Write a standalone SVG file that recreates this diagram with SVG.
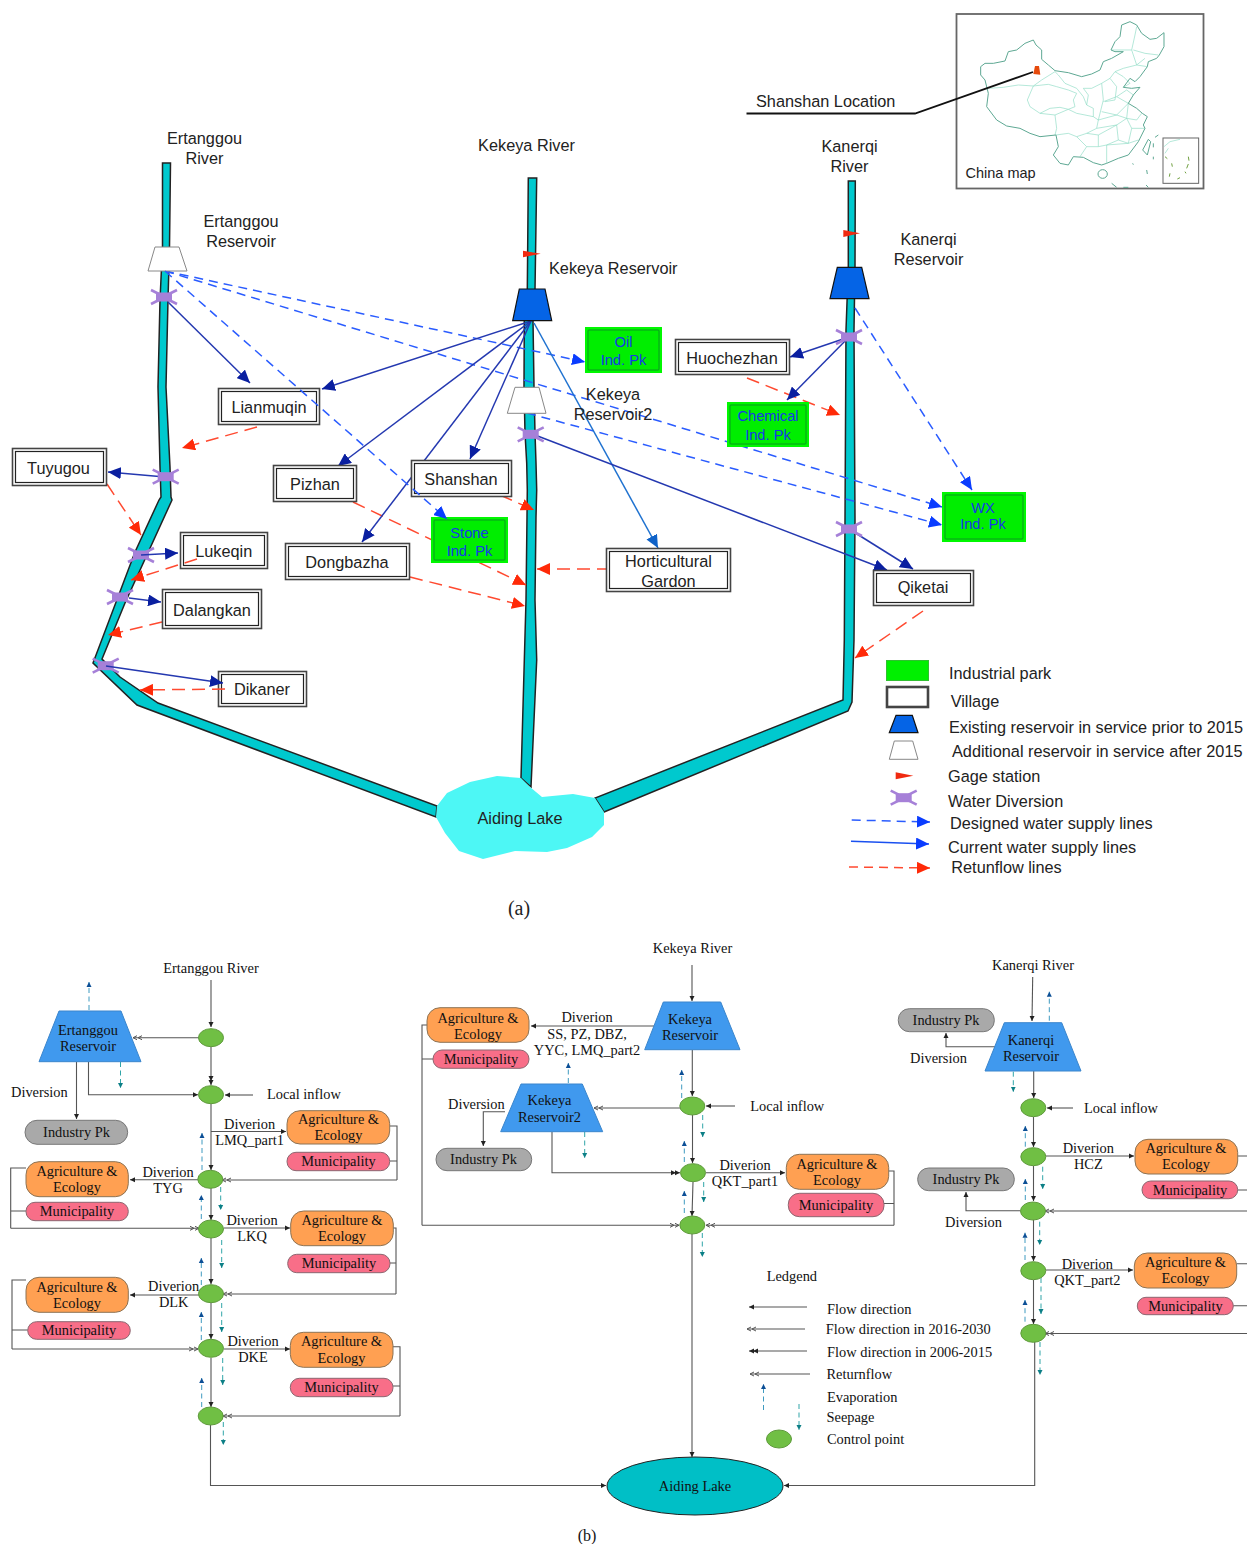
<svg xmlns="http://www.w3.org/2000/svg" width="1247" height="1544" viewBox="0 0 1247 1544">
<style>
text{font-family:"Liberation Sans",Arial,sans-serif;font-size:16.300px;fill:#222}
.m{text-anchor:middle}
.s text,text.s{font-family:"Liberation Serif","Times New Roman",serif;font-size:14.400px;fill:#111}
text.g{fill:#1638e8;font-size:14.700px}
.riv{fill:#00c9ce;stroke:#222;stroke-width:1.5}
.dk{fill:none;stroke:#2438b0;stroke-width:1.5;marker-end:url(#hDk)}
.lb{fill:none;stroke:#1f72d0;stroke-width:1.5;marker-end:url(#hLb)}
.de{fill:none;stroke:#2a5cff;stroke-width:1.5;stroke-dasharray:9 6;marker-end:url(#hDe)}
.re{fill:none;stroke:#ff4a30;stroke-width:1.5;stroke-dasharray:13 7;marker-end:url(#hRe)}
.v1{fill:#fff;stroke:#444;stroke-width:1.6}
.v2{fill:#fff;stroke:#222;stroke-width:1.2}
.p1{fill:#00f000;stroke:#00f800;stroke-width:2}
.p2{fill:#00ee00;stroke:#0a9a20;stroke-width:1}
.ex{fill:#0564e6;stroke:#111;stroke-width:1.2}
.ad{fill:#fff;stroke:#888;stroke-width:1}
.gag{fill:#f02a10}
.f{fill:none;stroke:#555;stroke-width:1.1}
.fa{marker-end:url(#bA)}
.fd{marker-end:url(#bD)}
.fo{marker-end:url(#bO)}
.ev{fill:none;stroke:#3f9ac0;stroke-width:1;stroke-dasharray:5 3.5;marker-end:url(#bE)}
.se{fill:none;stroke:#30a5a8;stroke-width:1;stroke-dasharray:5 3.5;marker-end:url(#bS)}
.ag{fill:#ffa052;stroke:#8c7355;stroke-width:1}
.mu{fill:#f86e88;stroke:#8c6670;stroke-width:1}
.ip{fill:#a9a9a9;stroke:#777;stroke-width:1}
.cp{fill:#70bf44;stroke:#5f9a3c;stroke-width:1}
.rs{fill:#4099ee;stroke:#3a85cc;stroke-width:1}
.mo{fill:none;stroke:#5da893;stroke-width:3}
.mp{fill:none;stroke:#8fdcc5;stroke-width:2}
</style>
<defs>
<marker id="hDk" markerUnits="userSpaceOnUse" markerWidth="14" markerHeight="12" refX="13" refY="6" orient="auto"><path d="M0,0L13,6L0,12Z" fill="#0a1fa0"/></marker>
<marker id="hLb" markerUnits="userSpaceOnUse" markerWidth="14" markerHeight="12" refX="13" refY="6" orient="auto"><path d="M0,0L13,6L0,12Z" fill="#0f62c8"/></marker>
<marker id="hDe" markerUnits="userSpaceOnUse" markerWidth="14" markerHeight="12" refX="13" refY="6" orient="auto"><path d="M0,0L13,6L0,12Z" fill="#0a3cff"/></marker>
<marker id="hRe" markerUnits="userSpaceOnUse" markerWidth="14" markerHeight="12" refX="13" refY="6" orient="auto"><path d="M0,0L13,6L0,12Z" fill="#ff2a08"/></marker>
<marker id="bA" markerUnits="userSpaceOnUse" markerWidth="6" markerHeight="6" refX="5" refY="3" orient="auto"><path d="M0,0.5L5,3L0,5.5Z" fill="#222"/></marker>
<marker id="bD" markerUnits="userSpaceOnUse" markerWidth="10" markerHeight="6" refX="9" refY="3" orient="auto"><path d="M0,0.5L5,3L0,5.500ZM4,0.5L9,3L4,5.500Z" fill="#222"/></marker>
<marker id="bO" markerUnits="userSpaceOnUse" markerWidth="10" markerHeight="6" refX="9" refY="3" orient="auto"><path d="M4,1L0,3L4,5M9,1L5,3L9,5" fill="none" stroke="#555" stroke-width="1" transform="rotate(180 4.500 3)"/></marker>
<marker id="bE" markerUnits="userSpaceOnUse" markerWidth="6" markerHeight="6" refX="5" refY="3" orient="auto"><path d="M0,0.5L5,3L0,5.500Z" fill="#0c4f96"/></marker>
<marker id="bS" markerUnits="userSpaceOnUse" markerWidth="6" markerHeight="6" refX="5" refY="3" orient="auto"><path d="M0,0.5L5,3L0,5.500Z" fill="#0c7f86"/></marker>
<g id="wd"><path d="M-13,-7L-5,-3M13,-7L5,-3M-13,7L-5,3M13,7L5,3" stroke="#a680d8" stroke-width="2.6" fill="none"/><rect x="-8" y="-4.500" width="16" height="9" fill="#a680d8"/></g>
</defs>

<g id="china-map">
<rect x="956.500" y="14" width="247" height="174.500" fill="#fff" stroke="#666" stroke-width="1.800"/>
<g transform="translate(740 0) scale(.33333)">
<path class="mp" d="M745 265L790 262L835 255L880 258L905 240L945 215M880 258L925 253L950 260L985 270L1010 280L1000 300L1005 320L985 328L960 322L930 325L900 340L870 320L862 300L880 258M945 345L950 385L945 405M900 340L945 345L985 328M985 328L1010 340L1035 345L1060 350L1075 360L1070 385L1040 400L1010 410L985 400L948 405M945 215L955 225L975 250L1010 265L1030 290L1040 315L1060 325L1060 350M1030 265L1045 285L1040 315M1030 265L1055 265L1085 250L1110 235L1125 215L1150 205L1190 195L1215 175M1085 250L1090 300L1075 360M1110 235L1130 260L1125 300L1095 305M1125 215L1150 230L1170 250L1150 262M1090 305L1130 290L1165 310L1130 345L1085 335M1130 290L1160 270L1180 285M1075 360L1130 345L1160 355L1130 375L1070 385M1165 310L1160 355L1190 360L1205 340M1160 355L1175 385L1215 385M1130 375L1135 420L1165 430L1175 385M1040 400L1075 405L1075 440L1040 440L1010 410M1075 405L1130 375M1135 420L1100 435L1075 440M1020 470L1040 440M1100 435L1165 430L1195 420M1100 435L1100 490M1180 150L1215 160L1255 165M1115 150L1175 150L1185 105L1190 80M1175 150L1190 195M1190 195L1222 200"/>
<path class="mo" d="M722 200L735 190L760 190L795 183L805 155L830 150L855 130L880 120L888 135L905 150L905 178L925 195L945 212L985 218L1025 230L1055 222L1080 210L1090 185L1115 175L1150 155L1125 155L1113 150L1125 125L1140 110L1145 75L1170 65L1190 75L1205 100L1230 118L1250 115L1272 98L1272 140L1258 165L1250 175L1225 185L1222 200L1200 230L1185 245L1170 235L1150 262L1175 265L1200 262L1180 285L1165 310L1190 325L1207 340L1222 350L1210 375L1215 385L1195 425L1165 465L1135 475L1100 490L1085 495L1060 488L1030 472L1000 470L985 495L960 490L940 465L955 440L948 405L900 410L870 400L840 385L800 378L770 360L740 320L745 280L735 240L722 225Z"/>
<ellipse class="mo" cx="1088" cy="522" rx="14" ry="13"/>
<path class="mo" d="M1225 418L1232 425L1222 465L1208 450Z"/>
<path class="mo" d="M1220 510L1222 522M1115 550L1130 562M1150 562L1165 562M1218 555L1225 562M1178 490L1180 494M1240 470L1240 478M1240 430L1240 442M1255 405L1245 412"/>
<path d="M885 198L897 198L901 224L880 222Z" fill="#e64a0c"/>
<rect x="1269" y="414" width="107" height="136" fill="#fff" stroke="#666" stroke-width="3"/>
<path d="M1275 470L1282 476M1295 490L1297 500M1345 470L1347 482M1345 492L1340 505M1290 520L1288 530M1312 537L1320 533M1335 515L1338 520" stroke="#6fa040" stroke-width="3" fill="none"/>
<path class="mp" d="M1272 440L1290 425L1320 418M1285 445L1275 460"/>
</g>
</g>
<path id="leader" d="M746.500 113.500H915L1033 72" fill="none" stroke="#111" stroke-width="1.800"/>

<g id="rivers">
<polygon class="riv" points="162.500,163 170.500,163 169.500,247 168,300 166,387 170,467 171,497 172,500 125,603 102,659 120,677 158,703 437,806 436,817 137,705 93,663 135,552 159,500 161,497 160,467 158,387 160,300 162.500,247"/>
<polygon class="riv" points="528.300,178 536.700,178 535,290 533,320 534,387 535,433 536,463 536.700,490 536,517 535,600 536.700,660 531,787 521,778 526,600 527,517 527.300,490 526.700,463 525,433 524,387 524.300,320 527.300,290"/>
<polygon class="riv" points="848.300,181 855.300,181 855,267 854,330 855,520 854,640 852,702 848,711 604,812 595,798 843,700 844.300,640 845,520 846,330 848.300,267"/>
</g>
<polygon id="aiding-lake" fill="#4df7f5" points="436,817 437,806 447,793 470,782 497,776 521,778 530,787 542,797 573,794 595,798 604,812 604,825 592,837 567,848 547,852 515,851 483,859 459,851 445,833"/>

<g id="connectors-under">
<line class="de" x1="165" y1="271" x2="585" y2="362"/>
<line class="de" x1="165" y1="271" x2="942" y2="507"/>
<line class="de" x1="527" y1="413" x2="942" y2="525"/>
<line class="de" x1="855" y1="308" x2="972" y2="490"/>
<line class="re" x1="353" y1="502" x2="526" y2="585"/>
<line class="re" x1="410" y1="577" x2="525" y2="606"/>
<line class="re" x1="500" y1="495" x2="534" y2="510"/>
<line class="re" x1="610" y1="569" x2="537" y2="569"/>
<line class="re" x1="257" y1="427" x2="182" y2="448"/>
<line class="re" x1="107" y1="484" x2="141" y2="535"/>
<line class="re" x1="162" y1="622" x2="108" y2="635"/>
<line class="re" x1="747" y1="378" x2="840" y2="415"/>
<line class="re" x1="923" y1="611" x2="855" y2="658"/>
<line class="dk" x1="168" y1="302" x2="250" y2="383"/>
<line class="dk" x1="531" y1="321" x2="322" y2="389"/>
<line class="dk" x1="531" y1="321" x2="338" y2="466"/>
<line class="dk" x1="531" y1="321" x2="362" y2="542"/>
<line class="dk" x1="531" y1="321" x2="470" y2="459"/>
<line class="lb" x1="534" y1="323" x2="658" y2="548"/>
<line class="dk" x1="535" y1="435" x2="887" y2="570"/>
<line class="dk" x1="849" y1="529" x2="913" y2="569"/>
<line class="dk" x1="165" y1="477" x2="108" y2="472"/>
<line class="dk" x1="849" y1="337" x2="790" y2="357"/>
<line class="dk" x1="849" y1="337" x2="787" y2="400"/>
</g>

<g id="gage-stations">
<polygon class="gag" points="523,250.700 540.700,253.700 523,257.300"/>
<polygon class="gag" points="843.300,230 860,233.300 843.300,237"/>
</g>
<g id="reservoir-ertanggou-a"><polygon class="ad" points="155,247 179,247 187,271 148,271"/></g>
<g id="reservoir-kekeya-a"><polygon class="ex" points="519.300,289 545,289 551.700,320.700 512.700,320.700"/></g>
<g id="reservoir-kekeya2-a"><polygon class="ad" points="515,387.300 539,387.300 546,413.300 507.300,413.300"/></g>
<g id="reservoir-kanerqi-a"><polygon class="ex" points="837.300,267.300 861.700,267.300 869,298.700 830,298.700"/></g>
<g id="diversions">
<use href="#wd" x="164" y="297"/><use href="#wd" x="165.700" y="476.700"/><use href="#wd" x="530.700" y="434.300"/><use href="#wd" x="849" y="337"/><use href="#wd" x="849" y="529"/><use href="#wd" x="141" y="555"/><use href="#wd" x="120" y="597"/><use href="#wd" x="105.700" y="665.700"/>
</g>

<g id="lianmuqin"><rect class="v1" x="218.500" y="388.500" width="101" height="36"/><rect class="v2" x="221.500" y="391.500" width="95" height="30"/><text class="m" x="269" y="413">Lianmuqin</text></g>
<g id="tuyugou"><rect class="v1" x="12.500" y="448.500" width="94" height="37"/><rect class="v2" x="15.500" y="451.500" width="88" height="31"/><text class="m" x="58.500" y="474">Tuyugou</text></g>
<g id="pizhan"><rect class="v1" x="273.500" y="465.500" width="83" height="36"/><rect class="v2" x="276.500" y="468.500" width="77" height="30"/><text class="m" x="315" y="490">Pizhan</text></g>
<g id="shanshan"><rect class="v1" x="411.500" y="460.500" width="100" height="36"/><rect class="v2" x="414.500" y="463.500" width="94" height="30"/><text class="m" x="461" y="485">Shanshan</text></g>
<g id="dongbazha"><rect class="v1" x="285.500" y="543.500" width="124" height="36"/><rect class="v2" x="288.500" y="546.500" width="118" height="30"/><text class="m" x="347" y="568">Dongbazha</text></g>
<g id="huochezhan"><rect class="v1" x="675.500" y="339.500" width="114" height="35"/><rect class="v2" x="678.500" y="342.500" width="108" height="29"/><text class="m" x="732" y="364">Huochezhan</text></g>
<g id="horticultural"><rect class="v1" x="606.500" y="548.500" width="124" height="43"/><rect class="v2" x="609.500" y="551.500" width="118" height="37"/><text class="m" x="668.500" y="567">Horticultural</text><text class="m" x="668.500" y="587">Gardon</text></g>
<g id="qiketai"><rect class="v1" x="873.500" y="570.500" width="100" height="35"/><rect class="v2" x="876.500" y="573.500" width="94" height="29"/><text class="m" x="923" y="593">Qiketai</text></g>
<g id="lukeqin"><rect class="v1" x="180.500" y="532.500" width="87" height="36"/><rect class="v2" x="183.500" y="535.500" width="81" height="30"/><text class="m" x="223.700" y="557">Lukeqin</text></g>
<g id="dalangkan"><rect class="v1" x="162.500" y="589.500" width="99" height="39"/><rect class="v2" x="165.500" y="592.500" width="93" height="33"/><text class="m" x="212" y="616">Dalangkan</text></g>
<g id="dikaner"><rect class="v1" x="218.500" y="671.500" width="88" height="35"/><rect class="v2" x="221.500" y="674.500" width="82" height="29"/><text class="m" x="262" y="695">Dikaner</text></g>

<g id="oil-pk"><rect class="p1" x="586" y="328" width="75" height="44"/><rect class="p2" x="588" y="330" width="71" height="40" rx="1"/><text class="m g" x="623.500" y="347">Oil</text><text class="m g" x="623.500" y="365">Ind. Pk</text></g>
<g id="chemical-pk"><rect class="p1" x="728" y="403" width="80" height="43"/><rect class="p2" x="730" y="405" width="76" height="39" rx="1"/><text class="m g" x="768" y="421">Chemical</text><text class="m g" x="768" y="440">Ind. Pk</text></g>
<g id="stone-pk"><rect class="p1" x="432" y="518" width="75" height="44"/><rect class="p2" x="434" y="520" width="71" height="40" rx="1"/><text class="m g" x="469.500" y="538">Stone</text><text class="m g" x="469.500" y="556">Ind. Pk</text></g>
<g id="wx-pk"><rect class="p1" x="943" y="493" width="82" height="48"/><rect class="p2" x="945" y="495" width="78" height="44" rx="1"/><text class="m g" x="983" y="513">WX</text><text class="m g" x="983" y="529">Ind. Pk</text></g>

<g id="connectors">
<line class="de" x1="165" y1="271" x2="447" y2="519"/>
<line class="dk" x1="141" y1="555" x2="178" y2="553"/>
<line class="dk" x1="129" y1="598" x2="161" y2="602"/>
<line class="dk" x1="106" y1="666" x2="223" y2="683"/>
<line class="re" x1="197" y1="559" x2="131" y2="580"/>
<line class="re" x1="225" y1="689" x2="140" y2="690"/>
</g>

<g id="labels-a">
<text class="m" x="204.500" y="144">Ertanggou</text><text class="m" x="204.500" y="164">River</text>
<text class="m" x="241" y="227">Ertanggou</text><text class="m" x="241" y="247">Reservoir</text>
<text class="m" x="526.500" y="151">Kekeya River</text>
<text x="549" y="274">Kekeya Reservoir</text>
<text class="m" x="613" y="400">Kekeya</text><text class="m" x="613" y="420">Reservoir2</text>
<text class="m" x="849.500" y="152">Kanerqi</text><text class="m" x="849.500" y="172">River</text>
<text class="m" x="928.500" y="245">Kanerqi</text><text class="m" x="928.500" y="265">Reservoir</text>
<text x="756" y="107">Shanshan Location</text>
<text x="965.500" y="178" style="font-size:14.500px">China map</text>
<text class="m" x="520" y="824">Aiding Lake</text>
</g>

<g id="legend-a">
<rect x="886.500" y="660.500" width="42" height="20" fill="#00f000" stroke="#30c030"/>
<rect x="887" y="687" width="41" height="20" fill="#fff" stroke="#444" stroke-width="2.600"/>
<polygon class="ex" points="889.300,732.700 896,715.300 912.300,715.300 918,732.700"/>
<polygon class="ad" points="889.300,759.300 894.300,741 912.700,741 918,759.300"/>
<polygon class="gag" points="895.700,772.300 913.300,775.700 895.700,779.300"/>
<use href="#wd" x="903.700" y="797.700"/>
<line class="de" x1="851.700" y1="820" x2="930" y2="822"/>
<line class="dk" style="stroke:#1a50f0;marker-end:url(#hDe)" x1="851" y1="841.300" x2="929" y2="844"/>
<line class="re" x1="849" y1="867" x2="930" y2="868" style="stroke-dasharray:9 6"/>
<text x="949" y="679">Industrial park</text>
<text x="950.700" y="707">Village</text>
<text x="949" y="733">Existing reservoir in service prior to 2015</text>
<text x="952" y="757">Additional reservoir in service after 2015</text>
<text x="948" y="782">Gage station</text>
<text x="948" y="807">Water Diversion</text>
<text x="950" y="829">Designed water supply lines</text>
<text x="948" y="853">Current water supply lines</text>
<text x="951.300" y="873">Retunflow lines</text>
</g>
<text class="m" x="519" y="915" style="font-family:'Liberation Serif',serif;font-size:20px">(a)</text>

<g id="connectors-b">
<path class="f fa" d="M211 980V1027"/>
<path class="f fo" d="M199 1037.700H133"/>
<path class="f fd" d="M211 1047V1085"/>
<path class="f fa" d="M88.500 1062V1094.700H198"/>
<path class="f fa" d="M76.500 1062V1119"/>
<path class="f fa" d="M253 1095H225"/>
<path class="f fa" d="M211 1104V1170"/>
<path class="f fa" d="M211 1131.500H286"/>
<path class="f" d="M389.700 1126H397V1180M389.700 1161H397"/>
<path class="f fo" d="M397 1180H222"/>
<path class="f fa" d="M198 1179.700H130"/>
<path class="f" d="M26 1168H10.700V1228.300M26 1211H10.700"/>
<path class="f fo" d="M10.700 1228.300H199"/>
<path class="f fa" d="M211 1188V1220"/>
<path class="f fa" d="M224 1228H290"/>
<path class="f" d="M393 1228H396V1294M390 1263H396"/>
<path class="f fo" d="M396 1294H223"/>
<path class="f fa" d="M211 1238V1284"/>
<path class="f fa" d="M199 1295H130"/>
<path class="f" d="M26 1280H12V1349M27.700 1330H12"/>
<path class="f fo" d="M12 1349H198"/>
<path class="f fa" d="M211 1303V1339"/>
<path class="f fa" d="M224 1349H290"/>
<path class="f" d="M393 1346.700H400V1416M393 1386H400"/>
<path class="f fo" d="M400 1416H223"/>
<path class="f fa" d="M211 1358V1407"/>
<path class="f fa" d="M210.500 1425V1485.500H606"/>
<path class="ev" d="M89 1010V982"/><path class="se" d="M120.500 1062V1088"/>
<path class="ev" d="M202 1170V1133"/><path class="se" d="M220.700 1187V1210"/>
<path class="ev" d="M201.300 1219V1195"/><path class="se" d="M221.700 1240V1268"/>
<path class="ev" d="M201.300 1285V1258"/><path class="se" d="M221.700 1303V1332"/>
<path class="ev" d="M201.300 1340V1312"/><path class="se" d="M222.700 1358V1385"/>
<path class="ev" d="M201.700 1407V1378"/><path class="se" d="M223.300 1422V1445"/>
<path class="f fa" d="M692 965V1001"/>
<path class="f fa" d="M654 1026H531"/>
<path class="f fa" d="M692.300 1050V1096"/>
<path class="f fa" d="M735 1106H706"/>
<path class="f fo" d="M680 1108H594"/>
<path class="f fa" d="M505 1111.700H483.300V1146"/>
<path class="f fd" d="M552 1132V1172.700H680"/>
<path class="f fa" d="M692.500 1115V1163"/>
<path class="f fa" d="M706 1172.700H785"/>
<path class="f" d="M888.700 1171H894V1225.300M884 1203.500H894"/>
<path class="f fo" d="M894 1225.300H706"/>
<path class="f" d="M427 1025H422V1225.300M433 1059H422"/>
<path class="f fo" d="M422 1225.300H679"/>
<path class="f fa" d="M693 1182L692 1216"/>
<path class="f fa" d="M692 1234V1457"/>
<path class="ev" d="M568.300 1083V1063"/><path class="se" d="M584.700 1132V1158"/>
<path class="ev" d="M681.700 1098V1070"/><path class="se" d="M702.700 1115V1137"/>
<path class="ev" d="M684.300 1162V1141"/><path class="se" d="M703.700 1182V1202"/>
<path class="ev" d="M684.300 1213V1191"/><path class="se" d="M702.300 1233V1257"/>
<path class="f fa" d="M1032.700 977L1032 1021"/>
<path class="f fa" d="M995 1046.700H946V1033"/>
<path class="f fa" d="M1033.700 1071V1098"/>
<path class="f fa" d="M1073 1108H1047"/>
<path class="f fa" d="M1033.500 1117V1147"/>
<path class="f fa" d="M1046 1156H1134"/>
<path class="f" d="M1237.700 1156H1247M1237.700 1190H1247"/>
<path class="f fo" d="M1247 1211H1045"/>
<path class="f fa" d="M1033.500 1166V1201"/>
<path class="f fa" d="M1020 1210.700H966V1192"/>
<path class="f fa" d="M1033.500 1220V1261"/>
<path class="f fa" d="M1046 1270H1133"/>
<path class="f" d="M1236.700 1263.700H1247M1233.300 1305.700H1247"/>
<path class="f fo" d="M1247 1333.500H1045"/>
<path class="f fa" d="M1033.500 1280V1324"/>
<path class="f fa" d="M1034.700 1342V1485.500H784"/>
<path class="ev" d="M1049.300 1020.700V991.700"/><path class="se" d="M1013.300 1071.700V1091.700"/>
<path class="ev" d="M1025.300 1146.700V1126"/><path class="se" d="M1042.700 1166.700V1189"/>
<path class="ev" d="M1025.300 1200V1179"/><path class="se" d="M1039.700 1221.700V1245"/>
<path class="ev" d="M1025 1260V1232.700"/><path class="se" d="M1041 1278V1314"/>
<path class="ev" d="M1025 1321.700V1300"/><path class="se" d="M1040 1342V1375"/>
<path class="f fa" d="M807 1307H749"/>
<path class="f fo" d="M805 1329H747"/>
<path class="f fd" d="M807 1351H749"/>
<path class="f fo" d="M810 1374H750"/>
<path class="ev" d="M763.500 1410V1384"/><path class="se" d="M799 1404V1430"/>
</g>

<g class="s" id="nodes-b">
<g id="b-ertanggou-res"><polygon class="rs" points="59,1011 121,1011 141,1061.700 39,1061.700"/><text class="m" x="88" y="1035">Ertanggou</text><text class="m" x="88" y="1051">Reservoir</text></g>
<g id="b-e-ind"><rect class="ip" x="25" y="1120.300" width="102.700" height="24" rx="12"/><text class="m" x="76.500" y="1137">Industry Pk</text></g>
<g id="b-e-ag1"><rect class="ag" x="287" y="1110.700" width="102.700" height="33.300" rx="13"/><text class="m" x="338.500" y="1124">Agriculture &amp;</text><text class="m" x="338.500" y="1140">Ecology</text></g>
<g id="b-e-mu1"><rect class="mu" x="287" y="1152.300" width="102.700" height="18.400" rx="9"/><text class="m" x="338.500" y="1166">Municipality</text></g>
<g id="b-e-ag2"><rect class="ag" x="26" y="1161.700" width="102.300" height="35" rx="13"/><text class="m" x="77" y="1176">Agriculture &amp;</text><text class="m" x="77" y="1192">Ecology</text></g>
<g id="b-e-mu2"><rect class="mu" x="26" y="1202.300" width="102.300" height="18.400" rx="9"/><text class="m" x="77" y="1216">Municipality</text></g>
<g id="b-e-ag3"><rect class="ag" x="290.700" y="1211" width="102.600" height="34.700" rx="13"/><text class="m" x="342" y="1225">Agriculture &amp;</text><text class="m" x="342" y="1241">Ecology</text></g>
<g id="b-e-mu3"><rect class="mu" x="287.700" y="1254.300" width="102.300" height="18.400" rx="9"/><text class="m" x="339" y="1268">Municipality</text></g>
<g id="b-e-ag4"><rect class="ag" x="26" y="1277.300" width="102.300" height="35" rx="13"/><text class="m" x="77" y="1292">Agriculture &amp;</text><text class="m" x="77" y="1308">Ecology</text></g>
<g id="b-e-mu4"><rect class="mu" x="27.700" y="1321.700" width="102.600" height="17.600" rx="8.800"/><text class="m" x="79" y="1335">Municipality</text></g>
<g id="b-e-ag5"><rect class="ag" x="290.300" y="1332.300" width="102.700" height="35" rx="13"/><text class="m" x="341.500" y="1346">Agriculture &amp;</text><text class="m" x="341.500" y="1363">Ecology</text></g>
<g id="b-e-mu5"><rect class="mu" x="290.300" y="1378.300" width="102.700" height="18.400" rx="9"/><text class="m" x="341.500" y="1392">Municipality</text></g>
<g id="b-e-cps"><ellipse class="cp" cx="211" cy="1037.700" rx="12.500" ry="9"/><ellipse class="cp" cx="211" cy="1094.700" rx="12.500" ry="9"/><ellipse class="cp" cx="210.300" cy="1179.300" rx="12.500" ry="9"/><ellipse class="cp" cx="211" cy="1229" rx="12.500" ry="9"/><ellipse class="cp" cx="211" cy="1293.700" rx="12.500" ry="9"/><ellipse class="cp" cx="211" cy="1348.300" rx="12.500" ry="9"/><ellipse class="cp" cx="210.700" cy="1416" rx="12.500" ry="9"/></g>

<g id="b-kekeya-res"><polygon class="rs" points="663.300,1002 720.700,1002 740,1049.700 644.700,1049.700"/><text class="m" x="690" y="1024">Kekeya</text><text class="m" x="690" y="1040">Reservoir</text></g>
<g id="b-kekeya2-res"><polygon class="rs" points="521,1084 582.300,1084 602.700,1131.700 500.700,1131.700"/><text class="m" x="549.500" y="1105">Kekeya</text><text class="m" x="549.500" y="1122">Reservoir2</text></g>
<g id="b-k-ag1"><rect class="ag" x="427" y="1007.700" width="102" height="34.600" rx="13"/><text class="m" x="478" y="1023">Agriculture &amp;</text><text class="m" x="478" y="1039">Ecology</text></g>
<g id="b-k-mu1"><rect class="mu" x="433" y="1050" width="96" height="18.300" rx="9"/><text class="m" x="481" y="1064">Municipality</text></g>
<g id="b-k-ind"><rect class="ip" x="436" y="1148.300" width="95.700" height="22.400" rx="11"/><text class="m" x="483.500" y="1164">Industry Pk</text></g>
<g id="b-k-ag2"><rect class="ag" x="786.300" y="1154.300" width="102.400" height="35" rx="13"/><text class="m" x="837" y="1169">Agriculture &amp;</text><text class="m" x="837" y="1185">Ecology</text></g>
<g id="b-k-mu2"><rect class="mu" x="788.300" y="1193.300" width="95.700" height="23.400" rx="11"/><text class="m" x="836" y="1210">Municipality</text></g>
<g id="b-k-cps"><ellipse class="cp" cx="692.300" cy="1106" rx="12.500" ry="9"/><ellipse class="cp" cx="693" cy="1172.700" rx="12.500" ry="9"/><ellipse class="cp" cx="692.300" cy="1225" rx="12.500" ry="9"/></g>

<g id="b-kanerqi-res"><polygon class="rs" points="1004.300,1022.700 1061.700,1022.700 1081,1071 985,1071"/><text class="m" x="1031" y="1045">Kanerqi</text><text class="m" x="1031" y="1061">Reservoir</text></g>
<g id="b-q-ind1"><rect class="ip" x="898.300" y="1008.700" width="96" height="23" rx="11"/><text class="m" x="946" y="1025">Industry Pk</text></g>
<g id="b-q-ind2"><rect class="ip" x="917.700" y="1168" width="96.600" height="22.700" rx="11"/><text class="m" x="966" y="1184">Industry Pk</text></g>
<g id="b-q-ag1"><rect class="ag" x="1135" y="1139.300" width="102.700" height="34.700" rx="13"/><text class="m" x="1186" y="1153">Agriculture &amp;</text><text class="m" x="1186" y="1169">Ecology</text></g>
<g id="b-q-mu1"><rect class="mu" x="1142" y="1181" width="95.700" height="17.700" rx="8.800"/><text class="m" x="1190" y="1195">Municipality</text></g>
<g id="b-q-ag2"><rect class="ag" x="1134.300" y="1253" width="102.400" height="35" rx="13"/><text class="m" x="1185.500" y="1267">Agriculture &amp;</text><text class="m" x="1185.500" y="1283">Ecology</text></g>
<g id="b-q-mu2"><rect class="mu" x="1137.300" y="1297.300" width="96" height="17.400" rx="8.700"/><text class="m" x="1185.500" y="1311">Municipality</text></g>
<g id="b-q-cps"><ellipse class="cp" cx="1033.300" cy="1107.700" rx="12.500" ry="9"/><ellipse class="cp" cx="1033.300" cy="1156.700" rx="12.500" ry="9"/><ellipse class="cp" cx="1033" cy="1211" rx="12.500" ry="9"/><ellipse class="cp" cx="1033.300" cy="1270.700" rx="12.500" ry="9"/><ellipse class="cp" cx="1033.300" cy="1333.300" rx="12.500" ry="9"/></g>

<g id="b-aiding-lake"><ellipse cx="695" cy="1486" rx="88" ry="29" fill="#00bfc6" stroke="#222" stroke-width="1"/><text class="m" x="695" y="1491">Aiding Lake</text></g>

<g id="labels-b">
<text class="m" x="211" y="973">Ertanggou River</text>
<text x="267" y="1099">Local inflow</text>
<text x="11" y="1097">Diversion</text>
<text class="m" x="249.600" y="1129">Diverion</text><text class="m" x="249.600" y="1145">LMQ_part1</text>
<text class="m" x="168" y="1177">Diverion</text><text class="m" x="168" y="1193">TYG</text>
<text class="m" x="252" y="1225">Diverion</text><text class="m" x="252" y="1241">LKQ</text>
<text class="m" x="173.700" y="1291">Diverion</text><text class="m" x="173.700" y="1307">DLK</text>
<text class="m" x="253" y="1346">Diverion</text><text class="m" x="253" y="1362">DKE</text>
<text class="m" x="692.500" y="953">Kekeya River</text>
<text class="m" x="587" y="1022">Diverion</text><text class="m" x="587" y="1039">SS, PZ, DBZ,</text><text class="m" x="587" y="1055">YYC, LMQ_part2</text>
<text x="448" y="1109">Diversion</text>
<text x="750.300" y="1111">Local inflow</text>
<text class="m" x="745" y="1170">Diverion</text><text class="m" x="745" y="1186">QKT_part1</text>
<text class="m" x="1033" y="970">Kanerqi River</text>
<text class="m" x="938.500" y="1063">Diversion</text>
<text x="1084" y="1113">Local inflow</text>
<text class="m" x="1088.300" y="1153">Diverion</text><text class="m" x="1088.300" y="1169">HCZ</text>
<text class="m" x="973.500" y="1227">Diversion</text>
<text class="m" x="1087.300" y="1269">Diverion</text><text class="m" x="1087.300" y="1285">QKT_part2</text>
</g>
<g id="legend-b">
<text x="766.700" y="1281">Ledgend</text>
<text x="827" y="1314">Flow direction</text>
<text x="825.700" y="1334">Flow direction in 2016-2030</text>
<text x="827" y="1357">Flow direction in 2006-2015</text>
<text x="826.500" y="1379">Returnflow</text>
<text x="827" y="1402">Evaporation</text>
<text x="826.500" y="1422">Seepage</text>
<text x="827" y="1444">Control point</text>
<ellipse class="cp" cx="779" cy="1439" rx="12.500" ry="9"/>
</g>
<text class="m" x="587" y="1541" style="font-size:16px">(b)</text>
</g>
</svg>
